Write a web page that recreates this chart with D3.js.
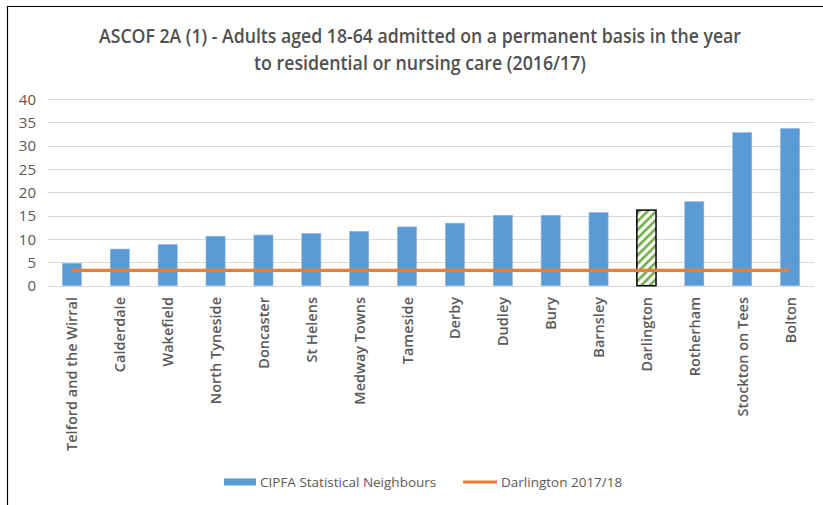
<!DOCTYPE html>
<html><head><meta charset="utf-8">
<script src="https://cdn.jsdelivr.net/npm/d3@7"></script>
<style>body{margin:0;background:#fff}svg{display:block}</style>
</head><body>
<svg id="c" width="823" height="505"></svg>
<script>
const categories = ["Telford and the Wirral","Calderdale","Wakefield","North Tyneside","Doncaster","St Helens","Medway Towns","Tameside","Derby","Dudley","Bury","Barnsley","Darlington","Rotherham","Stockton on Tees","Bolton"];
const neighbourValues = [4.8,7.85,8.85,10.6,10.85,11.2,11.65,12.6,13.4,15.1,15.1,15.7,16.2,18.0,32.8,33.7];
const darlingtonLine = 3.3;
const highlighted = "Darlington";
const yTicks = [0,5,10,15,20,25,30,35,40];
const titleLines = ["ASCOF 2A (1) - Adults aged 18-64 admitted on a permanent basis in the year","to residential or nursing care (2016/17)"];
const legendLabels = ["CIPFA Statistical Neighbours","Darlington 2017/18"];

const svg = d3.select("#c");
const font = "'Open Sans', 'Liberation Sans', sans-serif";
const grey = "#595959";

// border
svg.append("path").attr("d","M7.5,505 L7.5,6.5 L823,6.5").attr("fill","none").attr("stroke","#000").attr("stroke-width",1.2);

const x = d3.scaleBand().domain(categories).range([48,814]).paddingInner(0.6).paddingOuter(0.3);
const y = d3.scaleLinear().domain([0,40]).range([285.7,99]);

// pattern
const defs = svg.append("defs");
const pat = defs.append("pattern").attr("id","hatch").attr("patternUnits","userSpaceOnUse")
  .attr("width",6).attr("height",6).attr("patternTransform","rotate(-45)");
pat.append("rect").attr("width",6).attr("height",6).attr("fill","#fff");
pat.append("rect").attr("width",6).attr("height",2.6).attr("fill","#70AD47");

// title
svg.append("g").selectAll("text").data(titleLines).join("text")
  .attr("x",420).attr("y",(d,i)=>43+i*27).attr("text-anchor","middle")
  .attr("font-family",font).attr("font-size",19).attr("font-weight",600).attr("fill","#505050")
  .attr("textLength",(d,i)=>i===0?642:332).attr("lengthAdjust","spacingAndGlyphs")
  .text(d=>d);

// gridlines
svg.append("g").selectAll("line").data(yTicks).join("line")
  .attr("x1",48).attr("x2",814).attr("y1",d=>Math.round(y(d))+0.5).attr("y2",d=>Math.round(y(d))+0.5)
  .attr("stroke","#d9d9d9").attr("stroke-width",1);

// y axis labels
const yAxis = d3.axisLeft(y).tickValues(yTicks).tickSize(0).tickPadding(0);
const ga = svg.append("g").attr("transform","translate(36,0)").call(yAxis);
ga.select(".domain").remove();
ga.selectAll("text").attr("font-family",font).attr("font-size",15).attr("fill",grey).attr("dy","0.35em");

// bars
svg.append("g").selectAll("rect").data(categories).join("rect")
  .attr("x",d=>x(d)).attr("width",x.bandwidth())
  .attr("y",(d,i)=>y(neighbourValues[i])).attr("height",(d,i)=>y(0)-y(neighbourValues[i]))
  .attr("fill",d=>d===highlighted?"url(#hatch)":"#5B9BD5")
  .attr("stroke",d=>d===highlighted?"#000":"#8fbbe6")
  .attr("stroke-width",d=>d===highlighted?1.5:0.6);

// line
svg.append("line")
  .attr("x1",x(categories[0])+x.bandwidth()/2).attr("x2",x(categories[categories.length-1])+x.bandwidth()/2)
  .attr("y1",y(darlingtonLine)).attr("y2",y(darlingtonLine))
  .attr("stroke","#ED7D31").attr("stroke-width",3.2);

// x labels
svg.append("g").selectAll("text").data(categories).join("text")
  .attr("transform",d=>`translate(${x(d)+x.bandwidth()/2+5.5},297) rotate(-90)`)
  .attr("text-anchor","end").attr("font-family",font).attr("font-size",14.5).attr("font-weight",600)
  .attr("fill",grey).text(d=>d);

// legend
const lg = svg.append("g");
lg.append("rect").attr("x",224).attr("y",478.5).attr("width",32).attr("height",7).attr("fill","#5B9BD5");
lg.append("text").attr("x",260).attr("y",482).attr("dy","0.35em").attr("font-family",font).attr("font-size",13.5).attr("fill",grey).text(legendLabels[0]);
lg.append("line").attr("x1",463).attr("x2",497).attr("y1",482).attr("y2",482).attr("stroke","#ED7D31").attr("stroke-width",3);
lg.append("text").attr("x",501).attr("y",482).attr("dy","0.35em").attr("font-family",font).attr("font-size",13.5).attr("fill",grey).text(legendLabels[1]);
</script>
</body></html>
